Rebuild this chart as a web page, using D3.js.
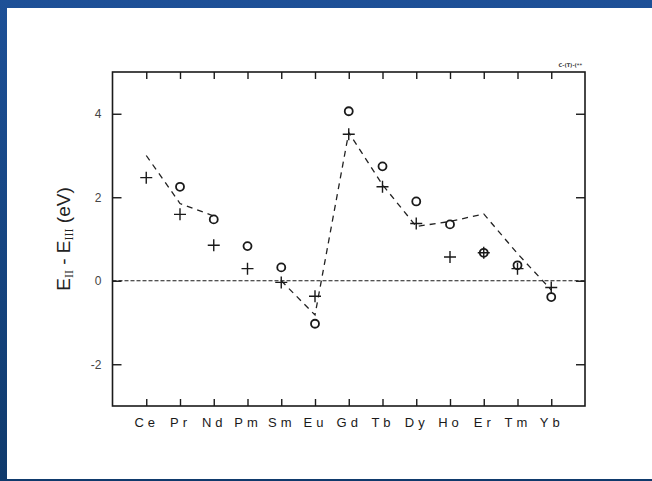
<!DOCTYPE html>
<html>
<head>
<meta charset="utf-8">
<script src="https://cdn.jsdelivr.net/npm/d3@7"></script>
<style>
  body { margin: 0; background: #1b4e94; }
  svg { display: block; }
</style>
</head>
<body>
<div id="chart"></div>
<script>
const W = 652, H = 481
const FRAME = { LEFT: 112.5, RIGHT: 585, TOP: 72, BOTTOM: 406 }

// data
const elements = ["Ce", "Pr", "Nd", "Pm", "Sm", "Eu", "Gd", "Tb", "Dy", "Ho", "Er", "Tm", "Yb"]
const crossValues = [2.47, 1.59, 0.85, 0.29, -0.04, -0.37, 3.51, 2.25, 1.37, 0.57, 0.67, 0.29, -0.16]
const circleValues = [null, 2.25, 1.47, 0.83, 0.32, -1.03, 4.06, 2.74, 1.9, 1.35, 0.67, 0.37, -0.39]
const curveValues = [3.0, 1.85, 1.55, null, 0.0, -0.82, 3.55, 2.3, 1.3, 1.42, 1.6, 0.65, -0.22]
const yTicks = [-2, 0, 2, 4]
const yDomain = [-3, 5]

const svg = d3.select("#chart")
  .append("svg")
    .attr("width", W)
    .attr("height", H)

// slide background
const defs = svg.append("defs")
const grad = defs.append("linearGradient")
    .attr("id", "bg")
    .attr("x1", 0).attr("y1", 0).attr("x2", 0).attr("y2", 1)
grad.append("stop").attr("offset", "0%").attr("stop-color", "#1d5097")
grad.append("stop").attr("offset", "100%").attr("stop-color", "#0f3a6c")

svg.append("rect")
    .attr("width", W).attr("height", H)
    .attr("fill", "url(#bg)")
svg.append("rect")
    .attr("x", 7).attr("y", 8)
    .attr("width", W - 7).attr("height", 471)
    .attr("fill", "#fff")

const x = d3.scalePoint()
  .domain(elements)
  .range([FRAME.LEFT, FRAME.RIGHT])
  .padding(1)

const y = d3.scaleLinear()
  .domain(yDomain)
  .range([FRAME.BOTTOM, FRAME.TOP])

const g = svg.append("g")

// axes, ticks pointing inward
const bottomAxis = g.append("g")
  .attr("transform", `translate(0, ${FRAME.BOTTOM})`)
  .call(d3.axisBottom(x).tickSize(-7).tickPadding(12))
const topAxis = g.append("g")
  .attr("transform", `translate(0, ${FRAME.TOP})`)
  .call(d3.axisTop(x).tickSize(-7).tickFormat(""))
const leftAxis = g.append("g")
  .attr("transform", `translate(${FRAME.LEFT}, 0)`)
  .call(d3.axisLeft(y).tickValues(yTicks).tickSize(-9).tickPadding(11).tickFormat(d => String(d)))
const rightAxis = g.append("g")
  .attr("transform", `translate(${FRAME.RIGHT}, 0)`)
  .call(d3.axisRight(y).tickValues(yTicks).tickSize(-9).tickFormat(""))

g.selectAll(".domain").remove()
g.selectAll(".tick line")
  .attr("stroke", "#1a1a1a")
  .attr("stroke-width", 1.4)

bottomAxis.selectAll("text")
  .attr("font-family", "'Liberation Sans', Arial, sans-serif")
  .attr("font-size", 13)
  .attr("letter-spacing", "4px")
  .attr("fill", "#1a1a1a")
leftAxis.selectAll("text")
  .attr("font-family", "'Liberation Sans', Arial, sans-serif")
  .attr("font-size", 12)
  .attr("fill", "#444")

// frame
g.append("rect")
  .attr("x", FRAME.LEFT)
  .attr("y", FRAME.TOP)
  .attr("width", FRAME.RIGHT - FRAME.LEFT)
  .attr("height", FRAME.BOTTOM - FRAME.TOP)
  .attr("fill", "none")
  .attr("stroke", "#1a1a1a")
  .attr("stroke-width", 1.6)

// zero line
g.append("line")
  .attr("x1", FRAME.LEFT).attr("x2", FRAME.RIGHT)
  .attr("y1", y(0)).attr("y2", y(0))
  .attr("stroke", "#1a1a1a")
  .attr("stroke-width", 1.2)
  .attr("stroke-dasharray", "4,2")

// dashed model curve (broken at Pm)
const line = d3.line()
  .defined(d => d.v != null)
  .x(d => x(d.el))
  .y(d => y(d.v))

g.append("path")
  .datum(elements.map((el, i) => ({ el, v: curveValues[i] })))
  .attr("d", line)
  .attr("fill", "none")
  .attr("stroke", "#222")
  .attr("stroke-width", 1.3)
  .attr("stroke-dasharray", "6,5")

// circles
g.selectAll("circle.pt")
  .data(elements.map((el, i) => ({ el, v: circleValues[i] })).filter(d => d.v != null))
  .enter().append("circle")
    .attr("class", "pt")
    .attr("cx", d => x(d.el))
    .attr("cy", d => y(d.v))
    .attr("r", 4)
    .attr("fill", "none")
    .attr("stroke", "#1a1a1a")
    .attr("stroke-width", 1.8)

// crosses
g.selectAll("path.cross")
  .data(elements.map((el, i) => ({ el, v: crossValues[i] })))
  .enter().append("path")
    .attr("class", "cross")
    .attr("transform", d => `translate(${x(d.el)}, ${y(d.v)})`)
    .attr("d", "M-6,0H6M0,-6V6")
    .attr("stroke", "#1a1a1a")
    .attr("stroke-width", 1.4)

// y axis title
const title = svg.append("text")
  .attr("transform", "translate(70, 239) rotate(-90)")
  .attr("text-anchor", "middle")
  .attr("font-family", "'Liberation Sans', Arial, sans-serif")
  .attr("font-size", 19)
  .attr("fill", "#222")
title.append("tspan").text("E")
title.append("tspan")
  .attr("font-family", "'Liberation Serif', serif")
  .attr("font-size", 12)
  .attr("dy", 3)
  .text("II")
title.append("tspan").attr("dy", -3).text(" - E")
title.append("tspan")
  .attr("font-family", "'Liberation Serif', serif")
  .attr("font-size", 12)
  .attr("dy", 3)
  .text("III")
title.append("tspan").attr("dy", -3).text(" (eV)")

// tiny figure code top right
svg.append("text")
  .attr("x", 582)
  .attr("y", 67)
  .attr("text-anchor", "end")
  .attr("font-family", "'DejaVu Sans', sans-serif")
  .attr("font-size", 5)
  .attr("font-weight", "bold")
  .attr("fill", "#333")
  .text("C-(T)-(**")
</script>
</body>
</html>
